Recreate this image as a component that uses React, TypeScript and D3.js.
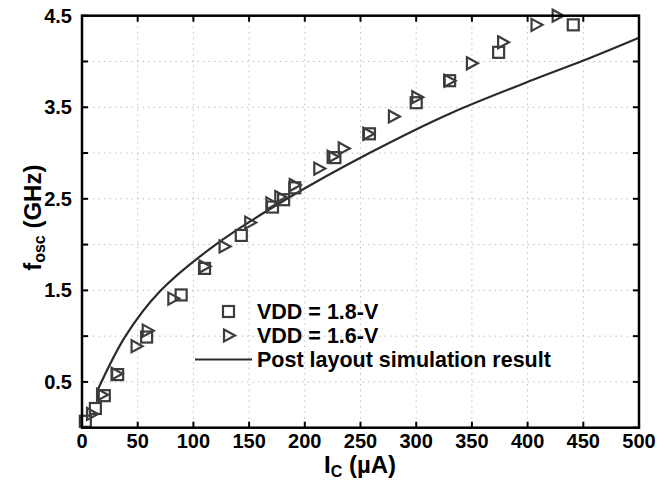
import React from "react";
import * as d3 from "d3";

const sq18X = [3, 12, 20, 32, 58, 89, 110, 143, 171, 181, 191, 227, 258, 300, 330, 374, 441];
const sq18Y = [0.07, 0.21, 0.35, 0.58, 0.99, 1.45, 1.74, 2.10, 2.41, 2.49, 2.62, 2.95, 3.21, 3.55, 3.79, 4.10, 4.40];

const tri16X = [9, 18, 31, 49, 59, 82, 110, 128, 151, 170, 178, 191, 213, 225, 235, 257, 280, 301, 330, 350, 378, 408, 427];
const tri16Y = [0.15, 0.36, 0.59, 0.89, 1.06, 1.41, 1.76, 1.98, 2.24, 2.45, 2.52, 2.65, 2.83, 2.96, 3.05, 3.21, 3.40, 3.61, 3.79, 3.98, 4.21, 4.40, 4.50];

const simX = [14, 39, 70, 120, 184, 258, 330, 405, 450, 500];
const simY = [0.41, 1.0, 1.49, 2.0, 2.5, 3.0, 3.43, 3.80, 4.01, 4.26];

const xTicks = [0, 50, 100, 150, 200, 250, 300, 350, 400, 450, 500];
const yTicks = [0, 0.5, 1, 1.5, 2, 2.5, 3, 3.5, 4, 4.5];
const yLabels = [0.5, 1.5, 2.5, 3.5, 4.5];

const W = 665, H = 483;
const L = 82, R = 639, T = 15.7, B = 427.7;
const FONT = "'Liberation Sans', Arial, sans-serif";
const MARK = "#3c3c3c";

export default function App() {
  const x = d3.scaleLinear().domain([0, 500]).range([L, R]);
  const y = d3.scaleLinear().domain([0, 4.5]).range([B, T]);
  const line = d3.line<number>()
    .x((_, i) => x(simX[i]))
    .y((d) => y(d))
    .curve(d3.curveCatmullRom.alpha(0.5));

  const sq = (cx: number, cy: number, k: string) => (
    <rect key={k} x={cx - 5.5} y={cy - 5.5} width={11} height={11} fill="none" stroke={MARK} strokeWidth={2.2} />
  );
  const tri = (cx: number, cy: number, k: string) => (
    <path key={k} d={`M${cx - 5},${cy - 6}L${cx + 6},${cy}L${cx - 5},${cy + 6}Z`} fill="none" stroke={MARK} strokeWidth={2.2} strokeLinejoin="miter" />
  );

  return (
    <svg width={W} height={H} style={{ position: "absolute", left: 0, top: 0, background: "#fff" }} fontFamily={FONT}>
      <rect x={0} y={0} width={W} height={H} fill="#fff" />
      {/* grid */}
      {xTicks.filter((t) => t > 0 && t < 500).map((t) => (
        <line key={"gx" + t} x1={x(t)} x2={x(t)} y1={T} y2={B} stroke="#bdbdbd" strokeWidth={1} strokeDasharray="1.5,4" />
      ))}
      {yTicks.filter((t) => t > 0 && t < 4.5).map((t) => (
        <line key={"gy" + t} x1={L} x2={R} y1={y(t)} y2={y(t)} stroke="#bdbdbd" strokeWidth={1} strokeDasharray="1.5,4" />
      ))}
      {/* ticks */}
      {xTicks.map((t) => (
        <g key={"xt" + t}>
          <line x1={x(t)} x2={x(t)} y1={B} y2={B - 6} stroke="#000" strokeWidth={2} />
          <line x1={x(t)} x2={x(t)} y1={T} y2={T + 6} stroke="#000" strokeWidth={2} />
          <text x={x(t)} y={448} textAnchor="middle" fontSize={20} fontWeight="bold">{t}</text>
        </g>
      ))}
      {yTicks.map((t) => (
        <g key={"yt" + t}>
          <line x1={L} x2={L + 6} y1={y(t)} y2={y(t)} stroke="#000" strokeWidth={2} />
          <line x1={R} x2={R - 6} y1={y(t)} y2={y(t)} stroke="#000" strokeWidth={2} />
        </g>
      ))}
      {yLabels.map((t) => (
        <text key={"yl" + t} x={72} y={y(t) + 7} textAnchor="end" fontSize={20} fontWeight="bold">{t.toFixed(1)}</text>
      ))}
      {/* simulation line */}
      <path d={line(simY) || ""} fill="none" stroke="#2a2a2a" strokeWidth={2.2} />
      {/* markers */}
      {sq18X.map((v, i) => sq(x(v), y(sq18Y[i]), "s" + i))}
      {tri16X.map((v, i) => tri(x(v), y(tri16Y[i]), "t" + i))}
      {/* frame */}
      <rect x={L} y={T} width={R - L} height={B - T} fill="none" stroke="#000" strokeWidth={2.5} />
      {/* legend */}
      {sq(228.5, 311.5, "ls")}
      <text x={257} y={318.5} fontSize={21.5} fontWeight="bold">VDD = 1.8-V</text>
      {tri(229, 335.5, "lt")}
      <text x={257} y={342.5} fontSize={21.5} fontWeight="bold">VDD = 1.6-V</text>
      <line x1={195} x2={252} y1={359.5} y2={359.5} stroke="#2a2a2a" strokeWidth={2.2} />
      <text x={257} y={366.5} fontSize={21.5} fontWeight="bold">Post layout simulation result</text>
      {/* axis titles */}
      <text x={324} y={473} fontSize={24} fontWeight="bold">
        I<tspan fontSize={16} dy={4}>C</tspan><tspan dy={-4}> (µA)</tspan>
      </text>
      <text transform={`translate(41,${(T + B) / 2 - 4}) rotate(-90)`} textAnchor="middle" fontSize={24} fontWeight="bold">
        f<tspan fontSize={16} dy={4}>osc</tspan><tspan dy={-4}> (GHz)</tspan>
      </text>
    </svg>
  );
}
